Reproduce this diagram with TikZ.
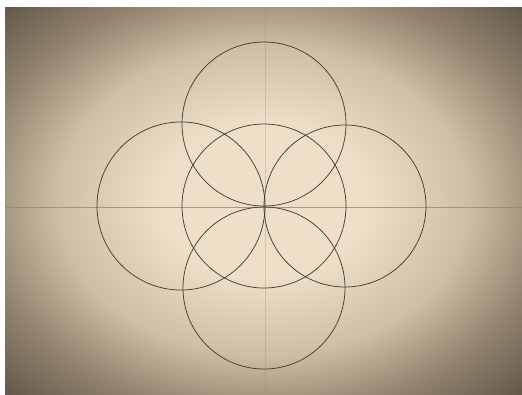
\documentclass[tikz,border=0pt]{standalone}
\usetikzlibrary{shadings}
\definecolor{paperlight}{RGB}{238,224,200}
\definecolor{papermid}{RGB}{205,190,165}
\definecolor{paperdark}{RGB}{145,130,110}
\definecolor{papercorner}{RGB}{95,84,70}
\definecolor{pencil}{RGB}{70,60,50}
\definecolor{guide}{RGB}{150,135,115}
\pgfdeclareradialshading{vignette}{\pgfpoint{0bp}{0bp}}{%
  color(0bp)=(paperlight);
  color(10bp)=(paperlight);
  color(20bp)=(papermid);
  color(28bp)=(paperdark);
  color(36bp)=(papercorner);
  color(50bp)=(papercorner)}
\tikzset{
  ring/.style={draw=pencil, line width=0.75pt},
  guideline/.style={draw=guide, line width=0.35pt}
}
\begin{document}
\begin{tikzpicture}[x=1pt,y=-1pt]
  \useasboundingbox (0,0) rectangle (522,394);
  \fill[white] (0,0) rectangle (522,394);
  \shade[shading=vignette] (5,7) rectangle (522,394);
  % guide lines
  \coordinate (O) at (264,206);
  \draw[guideline, draw opacity=0.8] (5,207) -- (522,207);
  \draw[guideline, draw opacity=0.3] (265,7) -- (265,394);
  % circles
  \coordinate (T) at (264,124);
  \coordinate (B) at (264,288);
  \coordinate (L) at (181,206);
  \coordinate (R) at (345,206);
  \draw[ring] (O) circle (82);
  \draw[ring] (T) circle (82);
  \draw[ring] (B) circle (81);
  \draw[ring] (L) circle (84);
  \draw[ring] (R) circle (81);
\end{tikzpicture}
\end{document}
